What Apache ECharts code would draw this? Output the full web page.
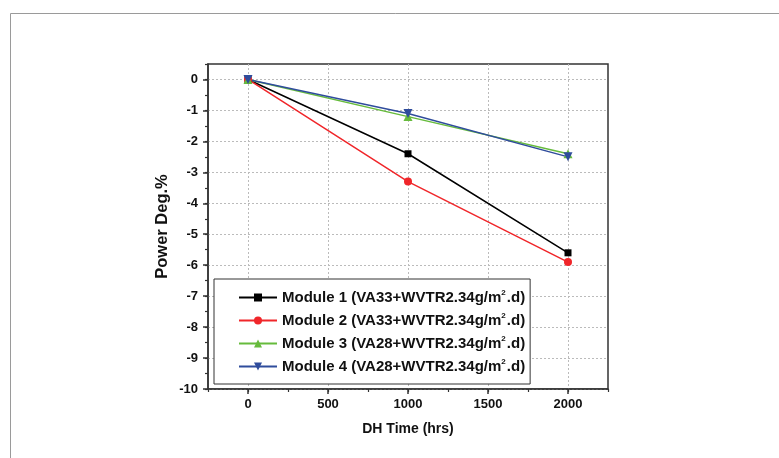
<!DOCTYPE html>
<html><head><meta charset="utf-8">
<script src="https://cdn.jsdelivr.net/npm/echarts@6/dist/echarts.min.js"></script>
<style>html,body{margin:0;padding:0;background:#fff}#c{width:779px;height:458px}</style>
</head><body><div id="c"></div>
<script>
var hours = [0, 1000, 2000];
var module1 = [0, -2.4, -5.6];
var module2 = [0, -3.3, -5.9];
var module3 = [0, -1.2, -2.4];
var module4 = [0, -1.1, -2.5];
var seriesNames = [
  'Module 1 (VA33+WVTR2.34g/m{s|2}.d)',
  'Module 2 (VA33+WVTR2.34g/m{s|2}.d)',
  'Module 3 (VA28+WVTR2.34g/m{s|2}.d)',
  'Module 4 (VA28+WVTR2.34g/m{s|2}.d)'
];
var xMajorTicks = [0, 500, 1000, 1500, 2000];
var yTicks = [0, -1, -2, -3, -4, -5, -6, -7, -8, -9, -10];

var FONT = '"Liberation Sans", Arial, sans-serif';
function pairs(ys){ return hours.map(function(h,i){ return [h, ys[i]]; }); }
var colors = ['#000000', '#f0262a', '#66bb3c', '#2f4c9c'];
var symbols = ['rect', 'circle', 'triangle', 'path://M0,0 L10,0 L5,9 Z'];
var sizes = [7, 8, 9, 9];
var data = [module1, module2, module3, module4];

var chart = echarts.init(document.getElementById('c'));
chart.setOption({
  animation: false,
  backgroundColor: '#fff',
  textStyle: { fontFamily: FONT },
  graphic: [{
    type: 'rect', left: 8, top: 11, silent: true,
    shape: { width: 800, height: 500 },
    style: { fill: 'none', stroke: '#9a9a9a', lineWidth: 1 }
  }],
  grid: { left: 208, right: 171, top: 64, bottom: 69, show: true, borderColor: '#333', borderWidth: 1.5, backgroundColor: 'transparent' },
  xAxis: [{
    type: 'value', min: -250, max: 2250, interval: 250, position: 'bottom',
    name: 'DH Time (hrs)', nameLocation: 'middle', nameGap: 33,
    nameTextStyle: { fontFamily: FONT, fontWeight: 'bold', fontSize: 14, color: '#111' },
    axisLine: { show: true, onZero: false, lineStyle: { color: '#333', width: 1.5 } },
    axisTick: { show: true, length: 5, inside: false, customValues: xMajorTicks, lineStyle: { color: '#333', width: 1.5 } },
    axisLabel: { customValues: xMajorTicks, margin: 9, fontFamily: FONT, fontWeight: 'bold', fontSize: 13, color: '#111',
      formatter: function(v){ return String(v); } },
    splitLine: { show: true, lineStyle: { color: '#bbb', type: [2, 2], width: 1 } }
  }, {
    type: 'value', min: -250, max: 2250, interval: 250, position: 'bottom',
    axisLine: { show: false, onZero: false },
    axisTick: { show: true, length: 3, lineStyle: { color: '#333', width: 1.2 } },
    axisLabel: { show: false },
    splitLine: { show: false }
  }],
  yAxis: [{
    type: 'value', min: -10, max: 0.5, interval: 0.5,
    name: 'Power Deg.%', nameLocation: 'middle', nameGap: 37, nameMoveOverlap: false,
    nameTextStyle: { fontFamily: FONT, fontWeight: 'bold', fontSize: 16.5, color: '#111' },
    axisLine: { show: true, onZero: false, lineStyle: { color: '#333', width: 1.5 } },
    axisTick: { show: true, length: 5, customValues: yTicks, lineStyle: { color: '#333', width: 1.5 } },
    axisLabel: { customValues: yTicks, margin: 10, fontFamily: FONT, fontWeight: 'bold', fontSize: 13, color: '#111' },
    splitLine: { show: true, lineStyle: { color: '#bbb', type: [2, 2], width: 1 } }
  }, {
    type: 'value', min: -10, max: 0.5, interval: 0.5, position: 'left',
    axisLine: { show: false, onZero: false },
    axisTick: { show: true, length: 3, lineStyle: { color: '#333', width: 1.2 } },
    axisLabel: { show: false },
    splitLine: { show: false }
  }],
  legend: {
    orient: 'vertical', left: 214, top: 279,
    padding: [10, 5, 9, 24],
    borderColor: '#333', borderWidth: 1, backgroundColor: '#fff',
    itemWidth: 38, itemHeight: 10, itemGap: 6,
    data: seriesNames,
    textStyle: {
      fontFamily: FONT, fontWeight: 'bold', fontSize: 15, color: '#111', lineHeight: 17,
      rich: { s: { fontFamily: FONT, fontWeight: 'bold', fontSize: 8, color: '#111', verticalAlign: 'top', lineHeight: 17, padding: [0, 1, 6, 0] } }
    }
  },
  series: data.map(function(d, i){
    return {
      name: seriesNames[i], type: 'line', data: pairs(d),
      xAxisIndex: 0, yAxisIndex: 0,
      color: colors[i], symbol: symbols[i], symbolSize: sizes[i], showAllSymbol: true,
      lineStyle: { width: 1.5, color: colors[i] },
      itemStyle: { color: colors[i] }
    };
  })
});
</script>
</body></html>
